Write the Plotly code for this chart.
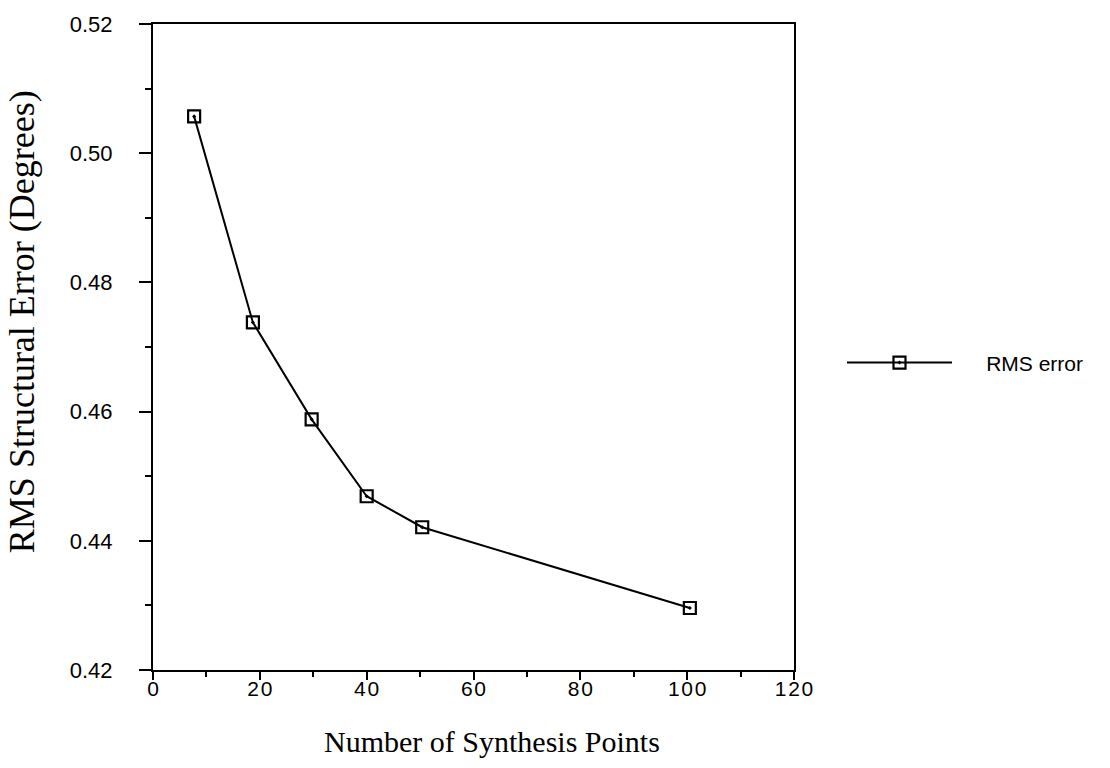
import plotly.graph_objects as go

synthesis_points = [7.7, 18.7, 29.7, 40.0, 50.4, 100.5]
rms_error = [0.5057, 0.4738, 0.4588, 0.4469, 0.4421, 0.4296]

x_tickvals = [0, 20, 40, 60, 80, 100, 120]
x_ticktext = ["0", "2\u200a0", "4\u200a0", "6\u200a0", "8\u200a0", "1\u200a0\u200a0", "1\u200a2\u200a0"]
y_tickvals = [0.42, 0.44, 0.46, 0.48, 0.50, 0.52]
y_ticktext = ["0.42", "0.44", "0.46", "0.48", "0.50", "0.52"]
series_name = "RMS error"
x_title = "Number of Synthesis Points"
y_title = "RMS Structural Error (Degrees)"

# plot area in pixels: x 153..794, y 20..670
def px_x(p):
    return (p - 153) / 641.0

def px_y(p):
    return (670 - p) / 650.0

fig = go.Figure()
fig.add_trace(go.Scatter(
    x=synthesis_points, y=rms_error, mode="lines+markers",
    name="\u00a0" * 5 + series_name,
    line=dict(color="black", width=2),
    marker=dict(symbol="square-open-dot", size=12, color="black", line=dict(width=2.2, color="black")),
))

fig.update_layout(
    width=1110, height=768,
    margin=dict(l=153, r=316, t=20, b=98),
    paper_bgcolor="white", plot_bgcolor="white",
    font=dict(family="Liberation Sans, Arial", color="black"),
    showlegend=True,
    legend=dict(x=px_x(842), y=px_y(361), xanchor="left", yanchor="middle",
                font=dict(family="Liberation Sans, Arial", size=21, color="black"),
                itemwidth=105, bgcolor="rgba(0,0,0,0)"),
    annotations=[
        dict(text=y_title, xref="paper", yref="paper", x=px_x(22), y=px_y(320),
             xanchor="center", yanchor="middle", textangle=-90, showarrow=False,
             font=dict(family="Liberation Serif, Times New Roman", size=36, color="black")),
        dict(text=x_title, xref="paper", yref="paper", x=px_x(492), y=px_y(742),
             xanchor="center", yanchor="middle", showarrow=False,
             font=dict(family="Liberation Serif, Times New Roman", size=30, color="black")),
    ],
)
fig.update_xaxes(
    range=[0, 120], tickvals=x_tickvals, ticktext=x_ticktext,
    ticks="outside", ticklen=8, tickwidth=2, tickcolor="black",
    minor=dict(dtick=10, ticks="outside", ticklen=5, tickwidth=2, tickcolor="black"),
    showline=True, linewidth=2, linecolor="black", mirror=True,
    showgrid=False, zeroline=False,
    ticklabelstandoff=-9,
    tickfont=dict(family="Liberation Sans, Arial", size=21, color="black"),
)
fig.update_yaxes(
    range=[0.42, 0.52], tickvals=y_tickvals, ticktext=y_ticktext,
    ticks="outside", ticklen=12, tickwidth=2, tickcolor="black",
    minor=dict(dtick=0.01, ticks="outside", ticklen=6, tickwidth=2, tickcolor="black"),
    showline=True, linewidth=2, linecolor="black", mirror=True,
    showgrid=False, zeroline=False,
    ticklabelstandoff=22,
    tickfont=dict(family="Liberation Sans, Arial", size=22, color="black"),
)

fig.write_html("out.html")
